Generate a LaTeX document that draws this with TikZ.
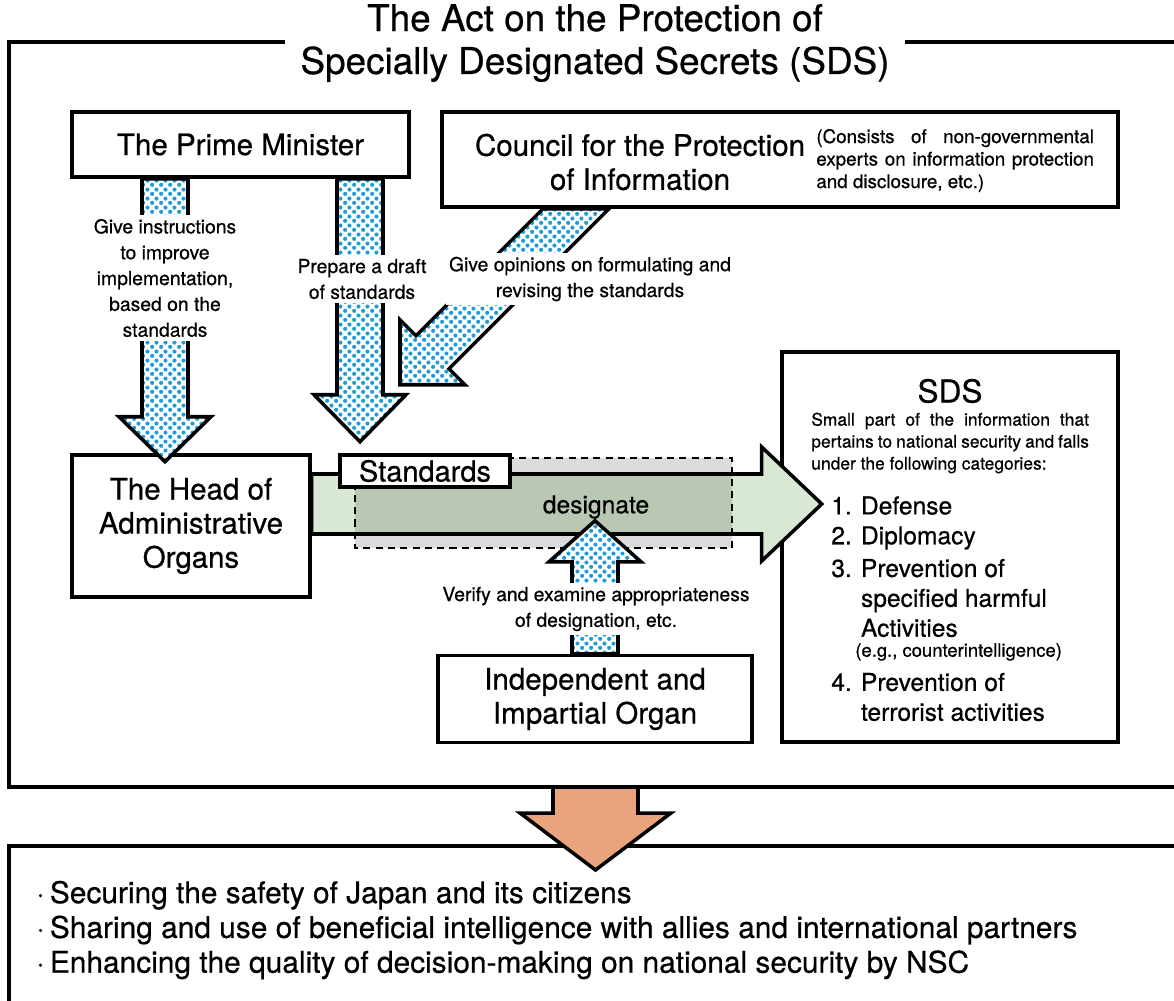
\documentclass[tikz,border=0pt]{standalone}
\usepackage{fontspec}
\setmainfont{TeX Gyre Heros}[UprightFeatures={FakeBold=0.6}]
\usetikzlibrary{patterns,calc}
\definecolor{bleupoint}{HTML}{1E9DD6}
\definecolor{vertclair}{HTML}{D9E8D3}
\definecolor{vertfonce}{HTML}{B9C7B3}
\definecolor{grisclair}{HTML}{DCDADB}
\definecolor{saumon}{HTML}{E9A47E}
\newcommand{\grand}{\fontsize{16.8}{19.4}\selectfont}
\newcommand{\moyen}{\fontsize{14}{17}\selectfont}
\pgfdeclarepatternformonly{points}{\pgfqpoint{0pt}{0pt}}{\pgfqpoint{5pt}{5pt}}{\pgfqpoint{5pt}{5pt}}{%
  \pgfpathcircle{\pgfqpoint{1.25pt}{1.25pt}}{1.2pt}%
  \pgfpathcircle{\pgfqpoint{3.75pt}{3.75pt}}{1.2pt}%
  \pgfusepath{fill}}
\tikzset{
    trait/.style={line width=2pt, line join=miter},
    boite/.style={draw, line width=2pt, fill=white, inner sep=0pt},
    flechepoint/.style={draw, line width=2pt, line join=miter, preaction={fill=white}, pattern=points, pattern color=bleupoint},
    etiquette/.style={fill=white, align=center, inner sep=2pt, font=\fontsize{11}{14.7}\selectfont},
  }
\begin{document}
\begin{tikzpicture}[x=0.02cm,y=-0.02cm]
			          %1 unite = 1 pixel de l'image
			          %fleche bleue : corps 46, tete 92 x 45
				  \useasboundingbox (0,0) rectangle (1174,1001);
				  \draw[trait] (9,42) rectangle (1185,787);
				  \node[fill=white, inner xsep=9pt, inner ysep=1pt, align=center, font=\fontsize{21}{24.4}\selectfont] (titre) at (595,43) {The Act on the Protection of\\Specially Designated Secrets (SDS)};
				  \draw[trait] (1185,846) -- (9,846) -- (9,1010);
				  
				  \node[boite, minimum width=6.74cm, minimum height=1.3cm, font=\grand] (pm) at (240.5,144.5) {The Prime Minister};
				  \node[boite, minimum width=13.52cm, minimum height=1.9cm] (conseil) at (780,159.5) {};
				  \node[align=center, font=\grand] (conseiltxt) at (640,162) {Council for the Protection\\of Information};
				  \node[anchor=west, text width=158pt, align=justify, inner sep=0pt, font=\fontsize{10.7}{12.8}\selectfont] (conseilnote) at (816,160.5) {(Consists of non-governmental\linebreak experts on information protection\linebreak and disclosure, etc.)};
				  \node[boite, minimum width=4.76cm, minimum height=2.84cm, align=center, font=\grand] (chef) at (191,526) {The Head of\\Administrative\\Organs};
				  \node[boite, minimum width=6.28cm, minimum height=1.74cm, align=center, font=\grand] (organe) at (595,699) {Independent and\\Impartial Organ};
				  \node[boite, minimum width=6.72cm, minimum height=7.8cm] (sds) at (950,547) {};
				  \node[font=\fontsize{18}{20}\selectfont] (sdstitre) at (950,391) {SDS};
				  \node[anchor=west, text width=158pt, align=justify, inner sep=0pt, font=\fontsize{9.9}{12.5}\selectfont] (sdsdef) at (811,443) {Small part of the information that\linebreak pertains to national security and falls\linebreak under the following categories:};
				  \node[anchor=west, align=left, inner sep=0pt, font=\moyen] (cat12) at (831,523) {1. Defense\\2. Diplomacy};
				  \node[anchor=west, align=left, inner sep=0pt, font=\moyen] (cat3) at (831,598) {3. Prevention of\\\phantom{3. }specified harmful\\\phantom{3. }Activities};
				  \node[anchor=west, inner sep=0pt, font=\fontsize{10.5}{12}\selectfont] (exemple) at (855,652) {(e.g., counterintelligence)};
				  \node[anchor=west, align=left, inner sep=0pt, font=\moyen] (cat4) at (831,697) {4. Prevention of\\\phantom{4. }terrorist activities};
				  
				  %fleche verte et zone grise
				  \fill[grisclair] (355,458) rectangle (732,548);
				  \draw[trait, fill=vertclair] (chef.east) ++(0,-52) coordinate (v0) -- ++(450,0) -- ++(0,-27) -- ++(60,57) -- ++(-60,57) -- ++(0,-27) -- ++(-450,0) -- cycle;
				  \fill[vertfonce] (355,474) rectangle (732,534);
				  \draw[trait] (v0) ++(40,0) -- ++(400,0);
				  \draw[trait] (v0) ++(40,60) -- ++(400,0);
				  \draw[line width=1pt, dash pattern=on 4pt off 3pt] (355,458) rectangle (732,548);
				  \node[boite, minimum width=3.4cm, minimum height=0.64cm, font=\fontsize{16.5}{18}\selectfont] (std) at (425,471) {Standards};
				  \node[font=\fontsize{14}{16}\selectfont] (designer) at (596,507) {designate};
				  
				  %fleches bleues
				  \draw[flechepoint] (pm.south) ++(-98.5,0) -- ++(0,238) -- ++(-23,0) -- ++(46,45) -- ++(46,-45) -- ++(-23,0) -- ++(0,-238) -- cycle;
				  \draw[flechepoint] (pm.south) ++(96.5,0) -- ++(0,216) -- ++(-23,0) -- ++(46,47) -- ++(46,-47) -- ++(-23,0) -- ++(0,-216) -- cycle;
				  \draw[flechepoint] (conseil.south) ++(-237,0) -- ++(-127,127) -- ++(-16,-16) -- ++(0,65) -- ++(65,0) -- ++(-16,-16) -- ++(160,-160) -- cycle;
				  \draw[flechepoint] (organe.north) ++(-23,0) -- ++(0,-92) -- ++(-23,0) -- ++(46,-41) -- ++(46,41) -- ++(-23,0) -- ++(0,92) -- cycle;
				  
				  \node[etiquette] (instr) at (165,278) {Give instructions\\to improve\\implementation,\\based on the\\standards};
				  \node[etiquette] (projet) at (362,279) {Prepare a draft\\of standards};
				  \node[etiquette] (avis) at (590,279) {Give opinions on formulating and\\revising the standards};
				  \node[etiquette] (verif) at (596,609) {Verify and examine appropriateness\\of designation, etc.};
				  
				  %fleche orange et resultats
				  \draw[trait, fill=saumon] (553,787) -- ++(0,26) -- ++(-33,0) -- ++(75.5,57) -- ++(75.5,-57) -- ++(-33,0) -- ++(0,-26) -- cycle;
				  \node[anchor=west, align=left, inner sep=0pt, font=\fontsize{17}{19.8}\selectfont] (resultats) at (36,930) {·\hspace{3pt}Securing the safety of Japan and its citizens\\·\hspace{3pt}Sharing and use of beneficial intelligence with allies and international partners\\·\hspace{3pt}Enhancing the quality of decision-making on national security by NSC};
				  \end{tikzpicture}
\end{document}
